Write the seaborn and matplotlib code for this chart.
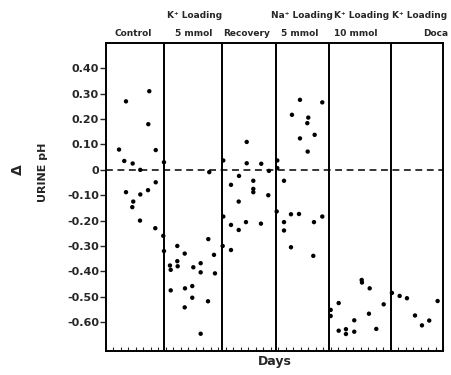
import numpy as np
import pandas as pd
import matplotlib
matplotlib.use("Agg")
import matplotlib.pyplot as plt
import matplotlib.transforms as mtransforms
import seaborn as sns

# ---- data (x in days from start, y = delta urine pH) ----
control_x = [1.74, 2.67, 5.78, 5.65, 2.44, 3.56, 4.58, 6.64, 2.67, 3.64, 3.51, 4.58, 5.61, 6.64, 4.54, 6.58]
control_y = [0.08, 0.27, 0.31, 0.18, 0.035, 0.025, 0.0, 0.078, -0.088, -0.125, -0.147, -0.097, -0.08, -0.049, -0.20, -0.23]

k5_x = [7.74, 7.65, 7.74, 9.52, 8.54, 8.64, 9.52, 9.57, 10.51, 11.66, 12.64, 12.64, 13.66, 14.42, 14.55,
        8.64, 10.55, 11.52, 11.52, 10.51, 13.62, 12.64, 13.79]
k5_y = [0.03, -0.26, -0.32, -0.30, -0.377, -0.394, -0.36, -0.38, -0.33, -0.384, -0.368, -0.404, -0.273, -0.335, -0.408,
        -0.475, -0.467, -0.458, -0.504, -0.542, -0.518, -0.646, -0.009]

rec_x = [15.66, 15.66, 15.58, 16.69, 16.69, 16.69, 17.76, 17.72, 17.72, 18.79, 18.79, 18.69, 19.67, 19.67, 19.67,
         20.73, 20.69, 21.67, 21.76]
rec_y = [0.037, -0.184, -0.30, -0.059, -0.217, -0.316, -0.024, -0.125, -0.237, 0.11, 0.026, -0.206, -0.043, -0.075, -0.088,
         0.024, -0.212, -0.10, -0.004]

na_x = [22.87, 22.87, 22.79, 23.77, 23.77, 23.77, 24.83, 24.70, 24.70, 25.90, 25.90, 25.77, 27.01, 26.88, 26.93,
        27.86, 27.77, 27.68, 28.88, 28.88]
na_y = [0.037, 0.007, -0.164, -0.043, -0.206, -0.239, 0.217, -0.175, -0.305, 0.276, 0.124, -0.174, 0.206, 0.184, 0.072,
        0.138, -0.206, -0.339, 0.266, -0.184]

k10_x = [30.0, 30.0, 31.07, 31.07, 32.04, 32.04, 33.15, 33.15, 34.14, 34.18, 35.21, 35.11, 36.09, 37.08]
k10_y = [-0.552, -0.576, -0.525, -0.634, -0.628, -0.647, -0.593, -0.638, -0.434, -0.444, -0.467, -0.567, -0.627, -0.53]

doca_x = [38.18, 39.21, 40.19, 41.26, 42.19, 43.16, 44.28]
doca_y = [-0.485, -0.497, -0.506, -0.574, -0.613, -0.594, -0.517]

boundaries = [7.78, 15.53, 22.72, 29.8, 38.1]
x_range = [0, 45.0]
y_ticks = [0.40, 0.30, 0.20, 0.10, 0, -0.10, -0.20, -0.30, -0.40, -0.50, -0.60]
y_ticklabels = ["0.40", "0.30", "0.20", "0.10", "0", "-0.10", "-0.20", "-0.30", "-0.40", "-0.50", "-0.60"]

header_line1 = [("K⁺ Loading", 11.8), ("Na⁺ Loading", 26.2), ("K⁺ Loading", 34.1), ("K⁺ Loading", 41.9)]
header_line2 = [("Control", 3.6), ("5 mmol", 11.75), ("Recovery", 18.76), ("5 mmol", 25.8), ("10 mmol", 33.4), ("Doca", 44.0)]

# ---- build table ----
phases = [("Control", control_x, control_y), ("K5", k5_x, k5_y), ("Recovery", rec_x, rec_y),
          ("Na5", na_x, na_y), ("K10", k10_x, k10_y), ("Doca", doca_x, doca_y)]
rows = []
for name, xs, ys in phases:
    for a, b in zip(xs, ys):
        rows.append({"phase": name, "day": a, "dph": b})
df = pd.DataFrame(rows)

sns.set_style("white")
plt.rcParams['font.family'] = ['DejaVu Sans']

fig = plt.figure(figsize=(4.52, 3.75), dpi=100)
ax = fig.add_axes([106 / 452, 24 / 375, (443 - 106) / 452, (351 - 43) / 375])

sns.scatterplot(data=df, x="day", y="dph", color="black", s=10, edgecolor="none", legend=False, ax=ax)

ax.set_xlim(x_range)
ax.set_ylim(-0.714, 0.50)

ax.axhline(0, color="black", lw=1.1, ls=(0, (4.5, 3)))
for b in boundaries:
    ax.axvline(b, color="black", lw=1.4)

for sp in ax.spines.values():
    sp.set_color("black")
    sp.set_linewidth(1.4)
    sp.set_visible(True)

ax.set_yticks(y_ticks)
ax.set_yticklabels(y_ticklabels, fontsize=8, fontweight="bold")
ax.set_xticks(np.arange(0, 46, 1))
ax.set_xticklabels([])
ax.tick_params(axis="y", direction="out", length=4, width=1.0, left=True, pad=1)
ax.tick_params(axis="x", direction="in", length=3, width=0.8, bottom=True)

ax.set_xlabel("")
ax.set_ylabel("")

trans = mtransforms.blended_transform_factory(ax.transData, ax.transAxes)
for txt, xc in header_line1:
    ax.text(xc, 1.088, txt, transform=trans, ha="center", va="center", fontsize=6.5, fontweight="bold", clip_on=False)
for txt, xc in header_line2:
    ax.text(xc, 1.032, txt, transform=trans, ha="center", va="center", fontsize=6.5, fontweight="bold", clip_on=False)

fig.text(275 / 452, 1 - 362 / 375, "Days", ha="center", va="center", fontsize=9, fontweight="bold")
fig.text(43 / 452, 1 - 172 / 375, "URINE pH", ha="center", va="center", rotation=90, fontsize=8, fontweight="bold")
fig.text(18 / 452, 1 - 170 / 375, "Δ", ha="center", va="center", rotation=90, fontsize=10, fontweight="bold")

fig.savefig("out.png", dpi=100)
